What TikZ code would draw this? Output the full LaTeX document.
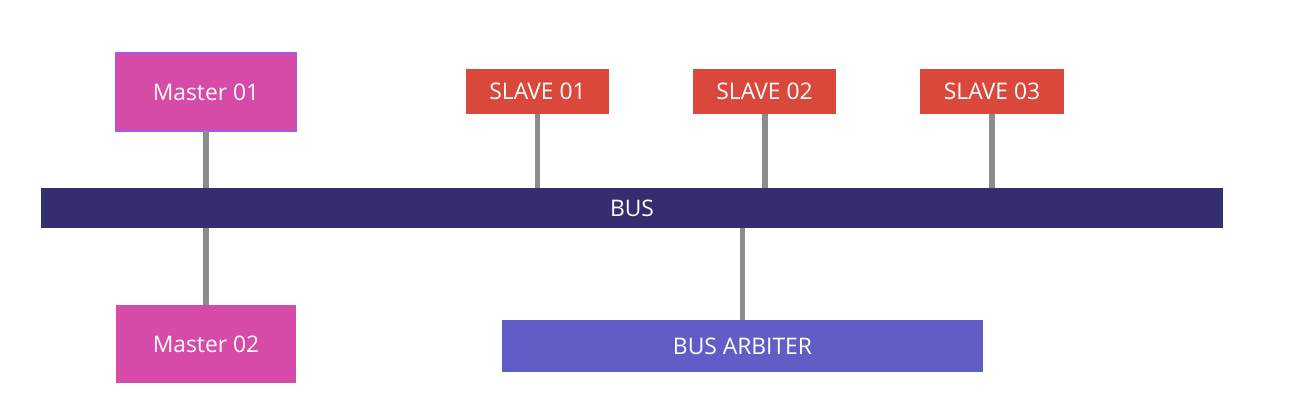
\documentclass[tikz,border=0pt]{standalone}
\usepackage{fontspec}
\setmainfont{Open Sans}
\definecolor{masterfill}{RGB}{214,74,168}
\definecolor{masterline}{RGB}{160,90,240}
\definecolor{slavefill}{RGB}{217,72,58}
\definecolor{busfill}{RGB}{53,46,110}
\definecolor{arbfill}{RGB}{97,93,199}
\definecolor{wire}{RGB}{140,140,140}
\begin{document}
\begin{tikzpicture}[x=0.02cm,y=-0.02cm,
        block/.style={rectangle, inner sep=0pt, outer sep=0pt, text=white,
                      font=\fontsize{13}{15}\selectfont},
        master/.style={block, fill=masterfill, minimum width=3.62cm, minimum height=1.56cm},
        slave/.style={block, fill=slavefill, minimum width=2.87cm, minimum height=0.9cm},
        link/.style={draw=wire, line width=3.4pt}
    ]
    \useasboundingbox (0,0) rectangle (1307,417);

        % Maestros a la izquierda
        \node[master, draw=masterline, line width=0.8pt] (master1) at (206,92) {Master 01};
        \node[master] (master2) at (206,344) {Master 02};

        % Esclavos arriba
        \node[slave] (slave1) at (537.5,91.5) {SLAVE 01};
        \node[slave] (slave2) at (764.5,91.5) {SLAVE 02};
        \node[slave] (slave3) at (992,91.5) {SLAVE 03};

        % Bus y arbitro
        \node[block, fill=busfill, minimum width=23.64cm, minimum height=0.8cm] (bus) at (632,208) {BUS};
        \node[block, fill=arbfill, minimum width=9.62cm, minimum height=1.04cm] (arbiter) at (742.5,346) {BUS ARBITER};

        % Conexiones al bus
        \draw[link] (master1.south) -- (master1.south |- bus.north);
        \draw[link] (master2.north) -- (master2.north |- bus.south);
        \draw[link] (slave1.south) -- (slave1.south |- bus.north);
        \draw[link] (slave2.south) -- (slave2.south |- bus.north);
        \draw[link] (slave3.south) -- (slave3.south |- bus.north);
        \draw[link] (arbiter.north) -- (arbiter.north |- bus.south);

    \end{tikzpicture}
\end{document}
